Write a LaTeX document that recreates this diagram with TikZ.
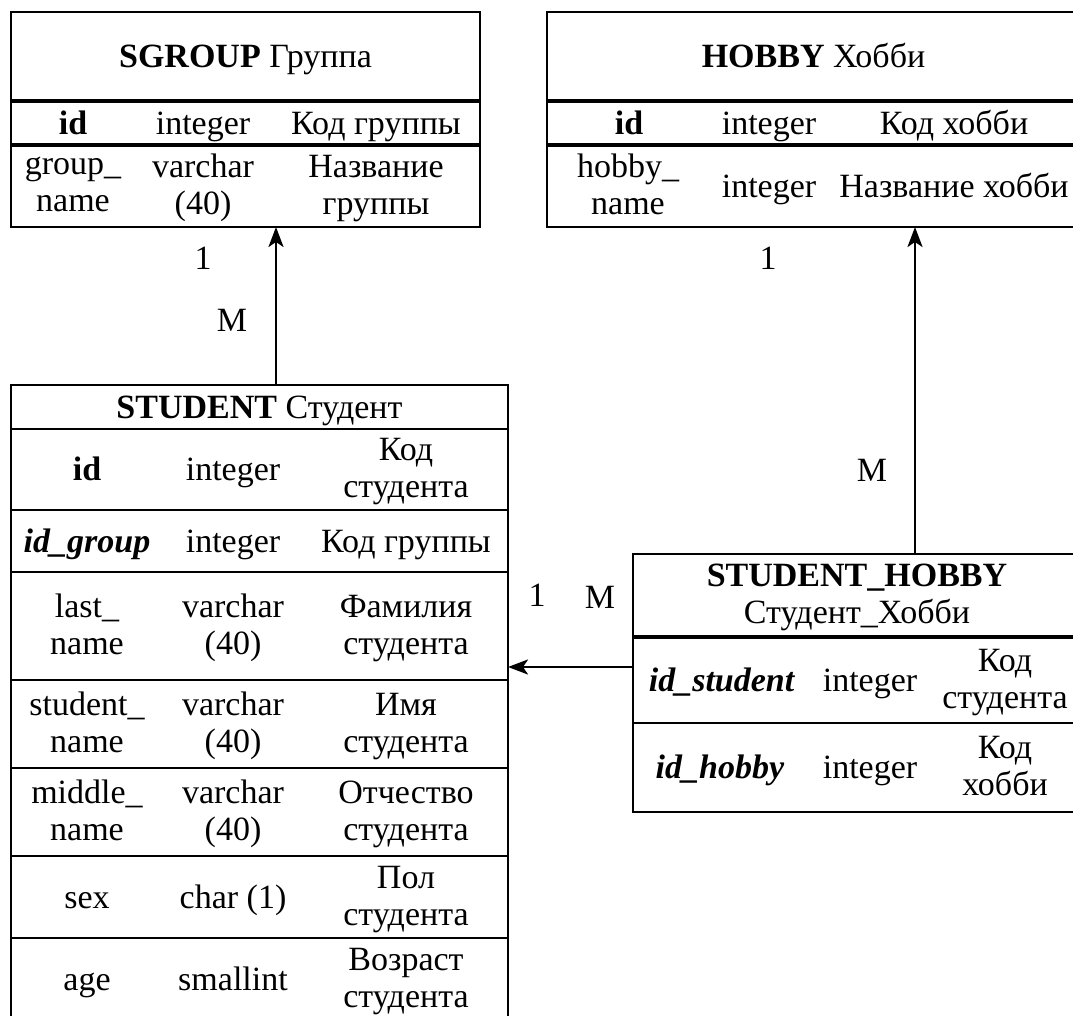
\documentclass[tikz,border=0pt]{standalone}
\usepackage{fontspec}
\setmainfont{Liberation Serif}
\usetikzlibrary{arrows.meta}

% three cells of one table row: #1 name prefix, #2 y, #3-#5 x, #6-#8 texts
\newcommand\rowcells[8]{%
  \node[cell] (#1-a) at (#3,#2) {#6};
  \node[cell] (#1-b) at (#4,#2) {#7};
  \node[cell] (#1-c) at (#5,#2) {#8};}

\begin{document}
\begin{tikzpicture}[x=1pt,y=-1pt,
  tbl/.style={draw, line width=2.5pt, anchor=north west, inner sep=0pt, outer sep=0pt},
  thinrule/.style={line width=2pt},
  boldrule/.style={line width=4pt},
  cell/.style={align=center, inner sep=0pt, font=\fontsize{34}{37}\selectfont,
    execute at begin node=\strut, execute at end node=\strut},
  mult/.style={inner sep=0pt, font=\fontsize{34}{37}\selectfont},
  conn/.style={line width=2.5pt, -{Stealth[length=20pt,width=15pt,inset=5pt]}}]

\useasboundingbox (0,0) rectangle (1073,1016);
\clip (0,0) rectangle (1073,1016);

% table frames
\node[tbl, minimum width=469pt, minimum height=215pt] (sgroup)  at (11,12)  {};
\node[tbl, minimum width=533pt, minimum height=215pt] (hobby)   at (547,12) {};
\node[tbl, minimum width=497pt, minimum height=637pt] (student) at (11,385) {};
\node[tbl, minimum width=448pt, minimum height=258pt] (shobby)  at (633,554) {};

% SGROUP
\draw[boldrule] (11,101) -- (480,101);
\draw[boldrule] (11,145) -- (480,145);
\node[cell] (sg-title) at (245.5,60) {\textbf{SGROUP} Группа};
\rowcells{sg-id}{127}{73}{203}{376}{\textbf{id}}{integer}{Код группы}
\rowcells{sg-name}{190}{73}{203}{376}{group\_\\name}{varchar\\(40)}{Название\\группы}

% HOBBY
\draw[boldrule] (547,101) -- (1080,101);
\draw[boldrule] (547,145) -- (1080,145);
\node[cell] (hb-title) at (813.5,60) {\textbf{HOBBY} Хобби};
\rowcells{hb-id}{127}{629}{769}{954}{\textbf{id}}{integer}{Код хобби}
\rowcells{hb-name}{190}{628}{769}{954}{hobby\_\\name}{integer}{Название хобби}

% STUDENT
\foreach \yy in {429,510,572,680,768,856,938}
  \draw[thinrule] (11,\yy) -- (508,\yy);
\node[cell] (st-title) at (259.5,411) {\textbf{STUDENT} Студент};
\rowcells{st-id}{473.5}{87}{233}{406}{\textbf{id}}{integer}{Код\\студента}
\rowcells{st-grp}{545}{87}{233}{406}{\textbf{\textit{id\_group}}}{integer}{Код группы}
\rowcells{st-last}{630}{87}{233}{406}{last\_\\name}{varchar\\(40)}{Фамилия\\студента}
\rowcells{st-first}{728}{87}{233}{406}{student\_\\name}{varchar\\(40)}{Имя\\студента}
\rowcells{st-mid}{816}{87}{233}{406}{middle\_\\name}{varchar\\(40)}{Отчество\\студента}
\rowcells{st-sex}{901}{87}{233}{406}{sex}{char (1)}{Пол\\студента}
\rowcells{st-age}{983}{87}{233}{406}{age}{smallint}{Возраст\\студента}

% STUDENT_HOBBY
\draw[line width=3.5pt] (633,637) -- (1081,637);
\draw[thinrule] (633,723) -- (1081,723);
\node[cell] (sh-title) at (857,599.5) {\textbf{STUDENT\_HOBBY}\\Студент\_Хобби};
\rowcells{sh-st}{684}{722}{870}{1005}{\textbf{\textit{id\_student}}}{integer}{Код\\студента}
\rowcells{sh-hb}{771.5}{720}{870}{1005}{\textbf{\textit{id\_hobby}}}{integer}{Код\\хобби}

% relationships
\coordinate (x-grp) at (276,0);
\coordinate (x-hob) at (915,0);
\coordinate (y-stu) at (0,667);
\draw[conn] (student.north -| x-grp) -- (sgroup.south -| x-grp);
\draw[conn] (shobby.north -| x-hob) -- (hobby.south -| x-hob);
\draw[conn] (shobby.west |- y-stu) -- (student.east |- y-stu);

% multiplicities
\node[mult] (m-sg-1)  at (203,258) {1};
\node[mult] (m-sg-m)  at (232,320) {M};
\node[mult] (m-hb-1)  at (768,258) {1};
\node[mult] (m-hb-m)  at (872,470) {M};
\node[mult] (m-st-1)  at (537,595) {1};
\node[mult] (m-st-m)  at (600,597) {M};
\end{tikzpicture}
\end{document}
